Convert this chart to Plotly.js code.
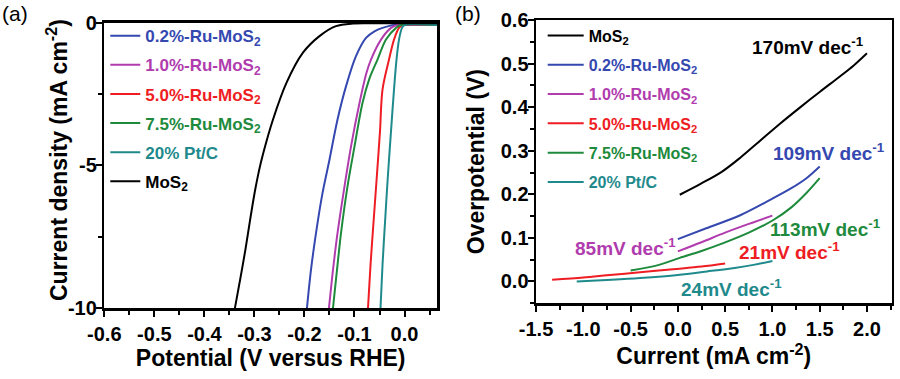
<!DOCTYPE html>
<html>
<head>
<meta charset="utf-8">
<script src="https://cdn.plot.ly/plotly-3.0.1.min.js"></script>
<style>html,body{margin:0;padding:0;background:#fff;}#chart{width:900px;height:379px;}</style>
</head>
<body>
<div id="chart"></div>
<script>
// ---------- Series ----------
const seriesNames = ["0.2%-Ru-MoS<sub>2</sub>", "1.0%-Ru-MoS<sub>2</sub>", "5.0%-Ru-MoS<sub>2</sub>", "7.5%-Ru-MoS<sub>2</sub>", "20% Pt/C", "MoS<sub>2</sub>"];
const seriesColors = ["#3548b0", "#b03cae", "#ee1d23", "#1d8a3c", "#1f8a8c", "#000000"];

// ---------- Tick labels ----------
const xTicksA = [-0.6, -0.5, -0.4, -0.3, -0.2, -0.1, 0.0];
const xTickTextA = ["-0.6", "-0.5", "-0.4", "-0.3", "-0.2", "-0.1", "0.0"];
const yTicksA = [-10, -5, 0];
const yTickTextA = ["-10", "-5", "0"];
const xTicksB = [-1.5, -1.0, -0.5, 0.0, 0.5, 1.0, 1.5, 2.0];
const xTickTextB = ["-1.5", "-1.0", "-0.5", "0.0", "0.5", "1.0", "1.5", "2.0"];
const yTicksB = [0.0, 0.1, 0.2, 0.3, 0.4, 0.5, 0.6];
const yTickTextB = ["0.0", "0.1", "0.2", "0.3", "0.4", "0.5", "0.6"];

// ---------- Panel (a): LSV polarization curves (V vs RHE, mA cm-2) ----------
const lsvV_Ru02 = [-0.195, -0.187, -0.177, -0.164, -0.150, -0.134, -0.117, -0.097, -0.077, -0.060, -0.044, -0.030, -0.020, -0.010, 0.065];
const lsvJ_Ru02 = [-10, -8.67, -7.38, -5.98, -4.80, -3.40, -2.23, -1.17, -0.53, -0.30, -0.18, -0.11, -0.08, -0.08, -0.08];
const lsvV_Ru10 = [-0.151, -0.143, -0.134, -0.120, -0.107, -0.090, -0.076, -0.067, -0.047, -0.027, -0.014, -0.006, 0.065];
const lsvJ_Ru10 = [-10, -8.67, -7.38, -5.74, -4.34, -2.81, -1.75, -1.29, -0.59, -0.18, -0.08, -0.08, -0.08];
const lsvV_Ru50 = [-0.073, -0.068, -0.062, -0.055, -0.049, -0.044, -0.031, -0.021, -0.011, -0.004, 0.065];
const lsvJ_Ru50 = [-10, -8.50, -7.00, -5.30, -3.80, -2.34, -1.29, -0.59, -0.18, -0.08, -0.08];
const lsvV_Ru75 = [-0.143, -0.135, -0.127, -0.114, -0.100, -0.084, -0.070, -0.054, -0.037, -0.017, -0.007, 0.065];
const lsvJ_Ru75 = [-10, -8.67, -7.38, -5.74, -4.34, -2.81, -1.95, -1.29, -0.59, -0.18, -0.08, -0.08];
const lsvV_PtC = [-0.048, -0.044, -0.039, -0.033, -0.027, -0.021, -0.016, -0.011, -0.005, 0.000, 0.065];
const lsvJ_PtC = [-10, -8.50, -7.00, -5.30, -3.80, -2.34, -1.29, -0.59, -0.18, -0.08, -0.08];
const lsvV_MoS2 = [-0.339, -0.328, -0.318, -0.309, -0.300, -0.291, -0.282, -0.263, -0.236, -0.203, -0.170, -0.137, -0.103, -0.070, 0.065];
const lsvJ_MoS2 = [-10, -8.95, -7.95, -6.95, -6.00, -5.20, -4.55, -3.40, -2.11, -1.05, -0.47, -0.12, -0.03, -0.02, -0.02];

// ---------- Panel (b): Tafel plots (current, V) ----------
const tafI_MoS2 = [0.02, 0.24, 0.46, 0.66, 0.87, 1.08, 1.29, 1.50, 1.71, 1.86, 2.00];
const tafE_MoS2 = [0.199, 0.224, 0.251, 0.284, 0.323, 0.362, 0.399, 0.435, 0.470, 0.496, 0.524];
const tafI_Ru02 = [0.00, 0.30, 0.66, 1.00, 1.20, 1.36, 1.50];
const tafE_Ru02 = [0.097, 0.122, 0.152, 0.190, 0.214, 0.237, 0.264];
const tafI_Ru10 = [0.00, 0.25, 0.50, 0.75, 1.00];
const tafE_Ru10 = [0.069, 0.090, 0.112, 0.132, 0.151];
const tafI_Ru50 = [-1.33, -1.00, -0.75, -0.40, -0.05, 0.25, 0.50];
const tafE_Ru50 = [0.004, 0.009, 0.014, 0.021, 0.028, 0.034, 0.041];
const tafI_Ru75 = [-0.50, -0.20, 0.02, 0.25, 0.48, 0.75, 1.01, 1.20, 1.36, 1.50];
const tafE_Ru75 = [0.025, 0.038, 0.054, 0.070, 0.088, 0.112, 0.141, 0.170, 0.203, 0.237];
const tafI_PtC = [-1.07, -0.70, -0.40, 0.00, 0.31, 0.60, 0.80, 1.00];
const tafE_PtC = [0.000, 0.004, 0.008, 0.015, 0.023, 0.031, 0.038, 0.047];

const slopeLabels = ["170mV dec<sup>-1</sup>", "109mV dec<sup>-1</sup>", "85mV dec<sup>-1</sup>", "21mV dec<sup>-1</sup>", "113mV dec<sup>-1</sup>", "24mV dec<sup>-1</sup>"];
const slopeX = [1.38, 1.60, -0.55, 1.18, 1.56, 0.57];
const slopeY = [0.540, 0.298, 0.080, 0.069, 0.122, -0.015];
const slopeColorIdx = [5, 0, 1, 2, 3, 4];

const lsvX = [lsvV_Ru02, lsvV_Ru10, lsvV_Ru50, lsvV_Ru75, lsvV_PtC, lsvV_MoS2];
const lsvY = [lsvJ_Ru02, lsvJ_Ru10, lsvJ_Ru50, lsvJ_Ru75, lsvJ_PtC, lsvJ_MoS2];
const tafX = [tafI_Ru02, tafI_Ru10, tafI_Ru50, tafI_Ru75, tafI_PtC, tafI_MoS2];
const tafY = [tafE_Ru02, tafE_Ru10, tafE_Ru50, tafE_Ru75, tafE_PtC, tafE_MoS2];

const FONT = "Liberation Sans, Arial, sans-serif";
const lbl = (i) => '<span style="color:' + seriesColors[i] + '">' + seriesNames[i] + '</span>';
const bold = (arr) => arr.map((t) => '<b>' + t + '</b>');

const traces = [];
for (let i = 0; i < 6; i++) {
  traces.push({
    x: lsvX[i], y: lsvY[i], xaxis: 'x', yaxis: 'y', type: 'scatter', mode: 'lines',
    line: {color: seriesColors[i], width: 2, shape: 'spline', smoothing: 0.9},
    name: lbl(i), legend: 'legend', legendgroup: 'a' + i, hoverinfo: 'skip'
  });
}
const tafOrder = [5, 0, 1, 2, 3, 4];
tafOrder.forEach((i) => {
  traces.push({
    x: tafX[i], y: tafY[i], xaxis: 'x2', yaxis: 'y2', type: 'scatter', mode: 'lines',
    line: {color: seriesColors[i], width: 2, shape: 'spline', smoothing: 0.9},
    name: lbl(i), legend: 'legend2', legendgroup: 'b' + i, hoverinfo: 'skip'
  });
});

const axisCommon = {
  showline: true, linecolor: '#000', linewidth: 2.5, mirror: true,
  ticks: 'outside', ticklen: 6, tickwidth: 2, tickcolor: '#000',
  showgrid: false, zeroline: false, tickmode: 'array',
  tickfont: {family: FONT, size: 20, color: '#000', weight: 'bold'},
  minor: {ticks: 'outside', ticklen: 4, tickwidth: 2, tickcolor: '#000', showgrid: false}
};
const titleFont = {family: FONT, size: 23, color: '#000', weight: 'bold'};

const annotations = [
  {text: '(a)', xref: 'paper', yref: 'paper', x: 0.0, y: 1.0, xanchor: 'left', yanchor: 'top', showarrow: false,
   font: {family: FONT, size: 21, color: '#000'}},
  {text: '(b)', xref: 'paper', yref: 'paper', x: 0.503, y: 1.0, xanchor: 'left', yanchor: 'top', showarrow: false,
   font: {family: FONT, size: 21, color: '#000'}},
  {text: '<b>Current density (mA cm<sup>-2</sup>)</b>', xref: 'paper', yref: 'paper', x: 57 / 900, y: 1 - 160 / 379,
   xanchor: 'center', yanchor: 'middle', textangle: -90, showarrow: false, font: titleFont}
];
for (let k = 0; k < slopeLabels.length; k++) {
  annotations.push({
    text: '<b>' + slopeLabels[k] + '</b>', xref: 'x2', yref: 'y2', x: slopeX[k], y: slopeY[k], showarrow: false,
    font: {family: FONT, size: 19, color: seriesColors[slopeColorIdx[k]], weight: 'bold'}
  });
}

const layout = {
  width: 900, height: 379,
  margin: {l: 0, r: 0, t: 0, b: 0},
  paper_bgcolor: '#fff', plot_bgcolor: '#fff',
  showlegend: true,
  xaxis: Object.assign({}, axisCommon, {
    domain: [0.1159, 0.4856], anchor: 'y', range: [-0.6, 0.065],
    tickvals: xTicksA, ticktext: bold(xTickTextA),
    minor: Object.assign({}, axisCommon.minor, {tickmode: 'linear', tick0: -0.6, dtick: 0.05}),
    title: {text: 'Potential (V versus RHE)', font: titleFont, standoff: 0}
  }),
  yaxis: Object.assign({}, axisCommon, {
    domain: [0.187, 0.940], anchor: 'x', range: [-10, 0], ticklabelstandoff: -5,
    tickvals: yTicksA, ticktext: bold(yTickTextA),
    minor: Object.assign({}, axisCommon.minor, {tickmode: 'linear', tick0: 0, dtick: 2.5})
  }),
  xaxis2: Object.assign({}, axisCommon, {
    domain: [0.5956, 0.9906], anchor: 'y2', range: [-1.5, 2.26],
    tickvals: xTicksB, ticktext: bold(xTickTextB),
    minor: Object.assign({}, axisCommon.minor, {tickmode: 'linear', tick0: -1.5, dtick: 0.25}),
    title: {text: 'Current (mA cm<sup>-2</sup>)', font: titleFont, standoff: 0}
  }),
  yaxis2: Object.assign({}, axisCommon, {
    domain: [0.200, 0.947], anchor: 'x2', range: [-0.05, 0.6], ticklabelstandoff: -5,
    tickvals: yTicksB, ticktext: bold(yTickTextB),
    minor: Object.assign({}, axisCommon.minor, {tickmode: 'linear', tick0: 0, dtick: 0.05}),
    title: {text: 'Overpotential (V)', font: titleFont, standoff: 10}
  }),
  legend: {
    x: 0.117, y: 0.952, xanchor: 'left', yanchor: 'top', bgcolor: 'rgba(0,0,0,0)',
    font: {family: FONT, size: 17, color: '#000', weight: 'bold'}, tracegroupgap: 4,
    itemwidth: 30, traceorder: 'grouped'
  },
  legend2: {
    x: 0.603, y: 0.951, xanchor: 'left', yanchor: 'top', bgcolor: 'rgba(0,0,0,0)',
    font: {family: FONT, size: 16, color: '#000', weight: 'bold'}, tracegroupgap: 5.5,
    itemwidth: 36, traceorder: 'grouped'
  },
  annotations: annotations
};

Plotly.newPlot('chart', traces, layout, {staticPlot: true, displayModeBar: false});
</script>
</body>
</html>
